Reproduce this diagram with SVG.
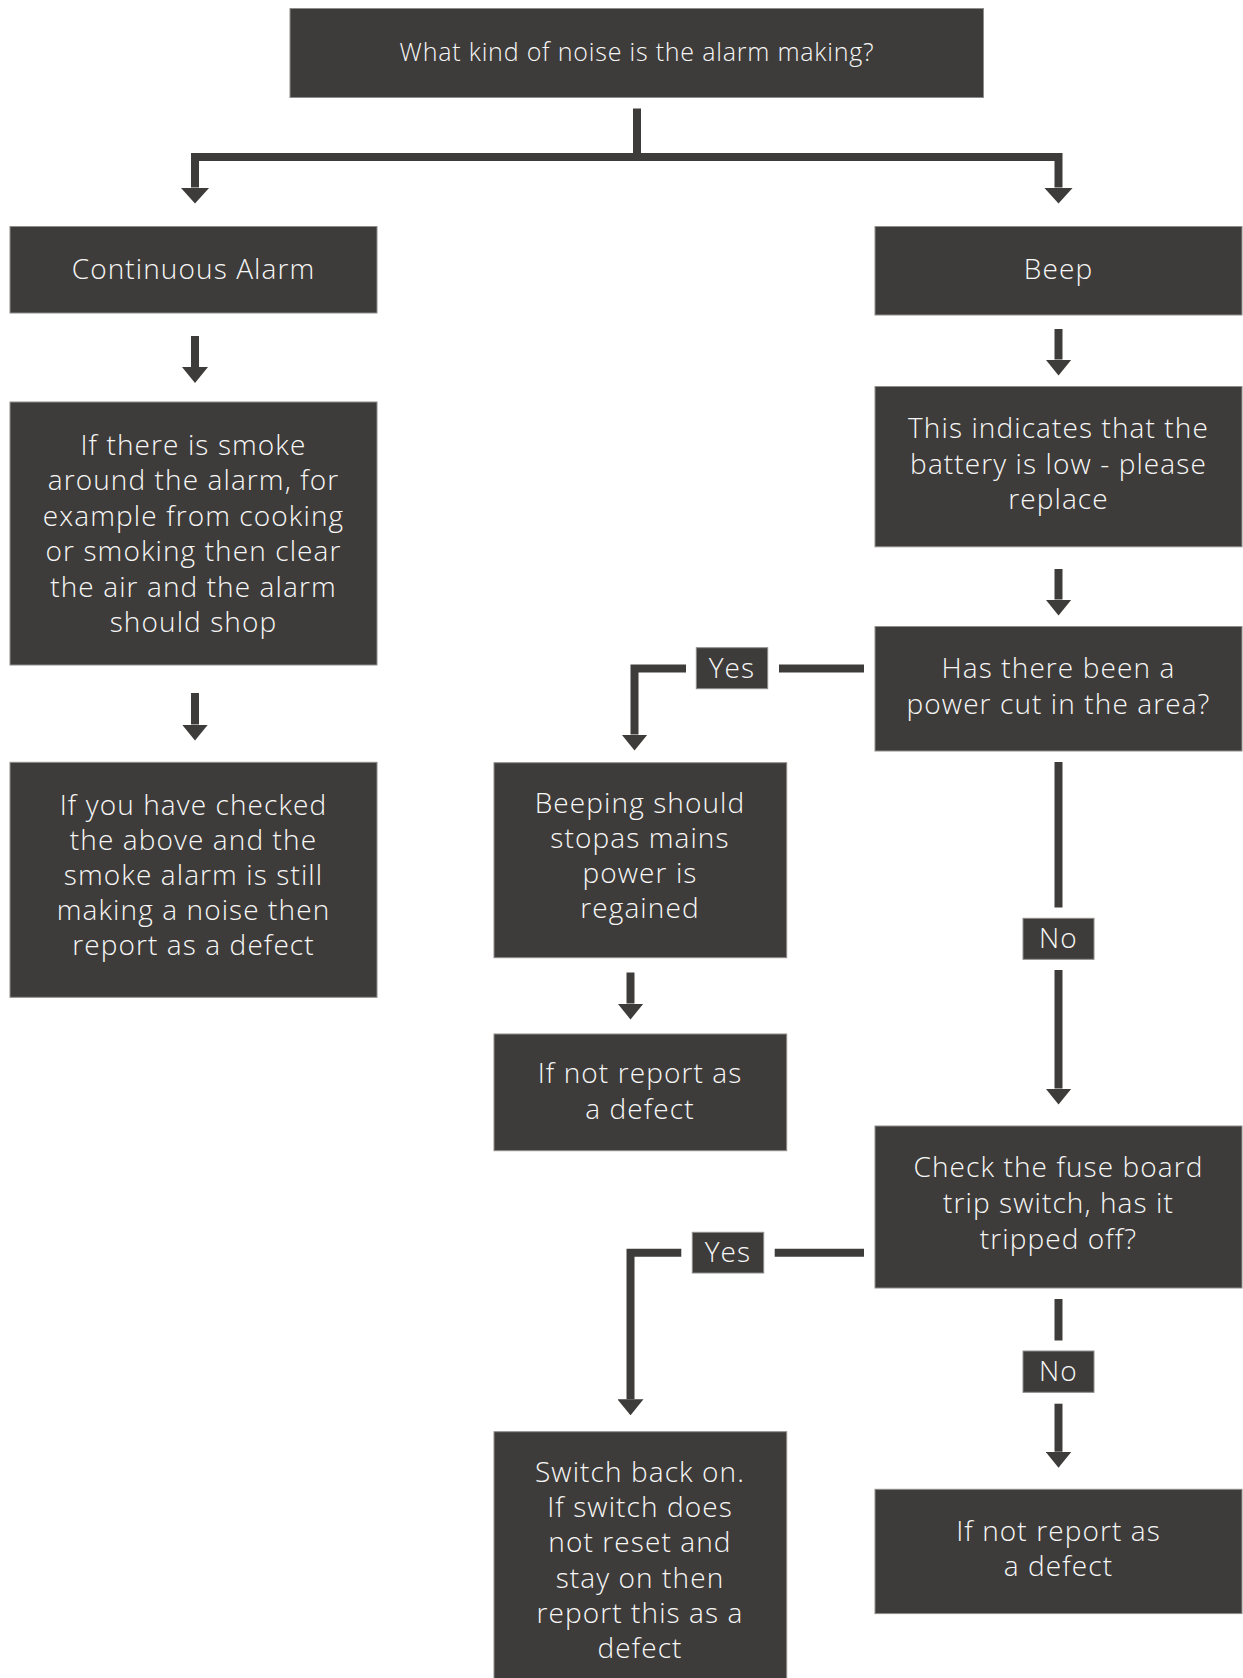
<svg xmlns="http://www.w3.org/2000/svg" width="1243" height="1678" viewBox="0 0 1243 1678">
<style>
.box{fill:#3e3c3a;stroke:#8f8d8b;stroke-width:1}
.lbl{fill:#3e3c3a;stroke:#8f8d8b;stroke-width:1}
.t{font-family:"Open Sans","Noto Sans","Liberation Sans",sans-serif;font-size:28px;font-weight:300;letter-spacing:1.1px;fill:#f7f7f7;text-anchor:middle}
.tt{font-size:25px;letter-spacing:0.8px}
.c{fill:none;stroke:#3e3c3a;stroke-width:8;stroke-linejoin:miter;stroke-linecap:butt}
.a{marker-end:url(#arr)}
.aw{marker-end:url(#arrw)}
</style>
<defs>
<marker id="arr" viewBox="0 0 16 26" refX="0" refY="13" markerWidth="16" markerHeight="26" markerUnits="userSpaceOnUse" orient="auto">
<path d="M0,0 L16,13 L0,26 Z" fill="#3e3c3a"/>
</marker>
<marker id="arrw" viewBox="0 0 16 29" refX="0" refY="14.5" markerWidth="16" markerHeight="29" markerUnits="userSpaceOnUse" orient="auto">
<path d="M0,0 L16,14.5 L0,29 Z" fill="#3e3c3a"/>
</marker>
</defs>

<g id="connectors">
<path class="c" d="M637,108.5 V157"/>
<path class="c aw" d="M637,157 H195 V187.5"/>
<path class="c aw" d="M637,157 H1058.5 V187.5"/>
<path class="c a" d="M195,336 V367"/>
<path class="c a" d="M195,693 V724.5"/>
<path class="c a" d="M1058.5,329 V359.5"/>
<path class="c a" d="M1058.5,569 V599.5"/>
<path class="c" d="M864,668.5 H779"/>
<path class="c a" d="M686,668.5 H634.5 V734.5"/>
<path class="c" d="M1058.5,762 V907.5"/>
<path class="c a" d="M1058.5,970 V1088.5"/>
<path class="c a" d="M630.5,972.5 V1003.5"/>
<path class="c" d="M864,1252.7 H774.7"/>
<path class="c a" d="M681.3,1252.7 H630.5 V1399.3"/>
<path class="c" d="M1058.5,1299 V1340.5"/>
<path class="c a" d="M1058.5,1403.7 V1451.7"/>
<g id="edge-labels">
<rect class="lbl" x="696.3" y="647.7" width="71.4" height="41"/>
<text class="t" x="732" y="677.5">Yes</text>
<rect class="lbl" x="1023" y="918.3" width="71" height="41"/>
<text class="t" x="1058.5" y="948.3">No</text>
<rect class="lbl" x="692.3" y="1232.3" width="71.4" height="40.7"/>
<text class="t" x="728" y="1262">Yes</text>
<rect class="lbl" x="1023" y="1351" width="71" height="41.3"/>
<text class="t" x="1058.5" y="1380.8">No</text>
</g>
</g>

<g id="n-question">
<rect class="box" x="290" y="8.5" width="693.5" height="89"/>
<text class="t tt" x="637" y="61">What kind of noise is the alarm making?</text>
</g>

<g id="n-continuous">
<rect class="box" x="10" y="226.5" width="367" height="86.5"/>
<text class="t" x="193.5" y="278.5">Continuous Alarm</text>
</g>

<g id="n-beep">
<rect class="box" x="875" y="226.5" width="367" height="88.5"/>
<text class="t" x="1058.5" y="279">Beep</text>
</g>

<g id="n-smoke">
<rect class="box" x="10" y="402" width="367" height="263"/>
<text class="t" x="193.5" y="454.5">If there is smoke</text>
<text class="t" x="193.5" y="490">around the alarm, for</text>
<text class="t" x="193.5" y="525.5">example from cooking</text>
<text class="t" x="193.5" y="561">or smoking then clear</text>
<text class="t" x="193.5" y="596.5">the air and the alarm</text>
<text class="t" x="193.5" y="632">should shop</text>
</g>

<g id="n-checked">
<rect class="box" x="10" y="762.3" width="367" height="235"/>
<text class="t" x="193.5" y="815">If you have checked</text>
<text class="t" x="193.5" y="850">the above and the</text>
<text class="t" x="193.5" y="885">smoke alarm is still</text>
<text class="t" x="193.5" y="920">making a noise then</text>
<text class="t" x="193.5" y="955">report as a defect</text>
</g>

<g id="n-battery">
<rect class="box" x="875" y="386.5" width="367" height="160.3"/>
<text class="t" x="1058.5" y="438">This indicates that the</text>
<text class="t" x="1058.5" y="473.5">battery is low - please</text>
<text class="t" x="1058.5" y="508.5">replace</text>
</g>

<g id="n-powercut">
<rect class="box" x="875" y="626.5" width="367" height="124.5"/>
<text class="t" x="1058.5" y="678.3">Has there been a</text>
<text class="t" x="1058.5" y="714.3">power cut in the area?</text>
</g>

<g id="n-beeping">
<rect class="box" x="494" y="762.7" width="292.7" height="195"/>
<text class="t" x="640" y="813.3">Beeping should</text>
<text class="t" x="640" y="848.3">stopas mains</text>
<text class="t" x="640" y="883.3">power is</text>
<text class="t" x="640" y="918.3">regained</text>
</g>

<g id="n-ifnot1">
<rect class="box" x="494" y="1034" width="292.7" height="116.7"/>
<text class="t" x="640" y="1083.3">If not report as</text>
<text class="t" x="640" y="1119.3">a defect</text>
</g>

<g id="n-fuse">
<rect class="box" x="875" y="1126" width="367" height="162"/>
<text class="t" x="1058.5" y="1177">Check the fuse board</text>
<text class="t" x="1058.5" y="1213">trip switch, has it</text>
<text class="t" x="1058.5" y="1249">tripped off?</text>
</g>

<g id="n-switch">
<rect class="box" x="494" y="1431.7" width="292.7" height="250"/>
<text class="t" x="640" y="1481.7">Switch back on.</text>
<text class="t" x="640" y="1516.7">If switch does</text>
<text class="t" x="640" y="1551.7">not reset and</text>
<text class="t" x="640" y="1587.7">stay on then</text>
<text class="t" x="640" y="1623.3">report this as a</text>
<text class="t" x="640" y="1658.3">defect</text>
</g>

<g id="n-ifnot2">
<rect class="box" x="875" y="1489.3" width="367" height="124.3"/>
<text class="t" x="1058.5" y="1541">If not report as</text>
<text class="t" x="1058.5" y="1576">a defect</text>
</g>
</svg>
